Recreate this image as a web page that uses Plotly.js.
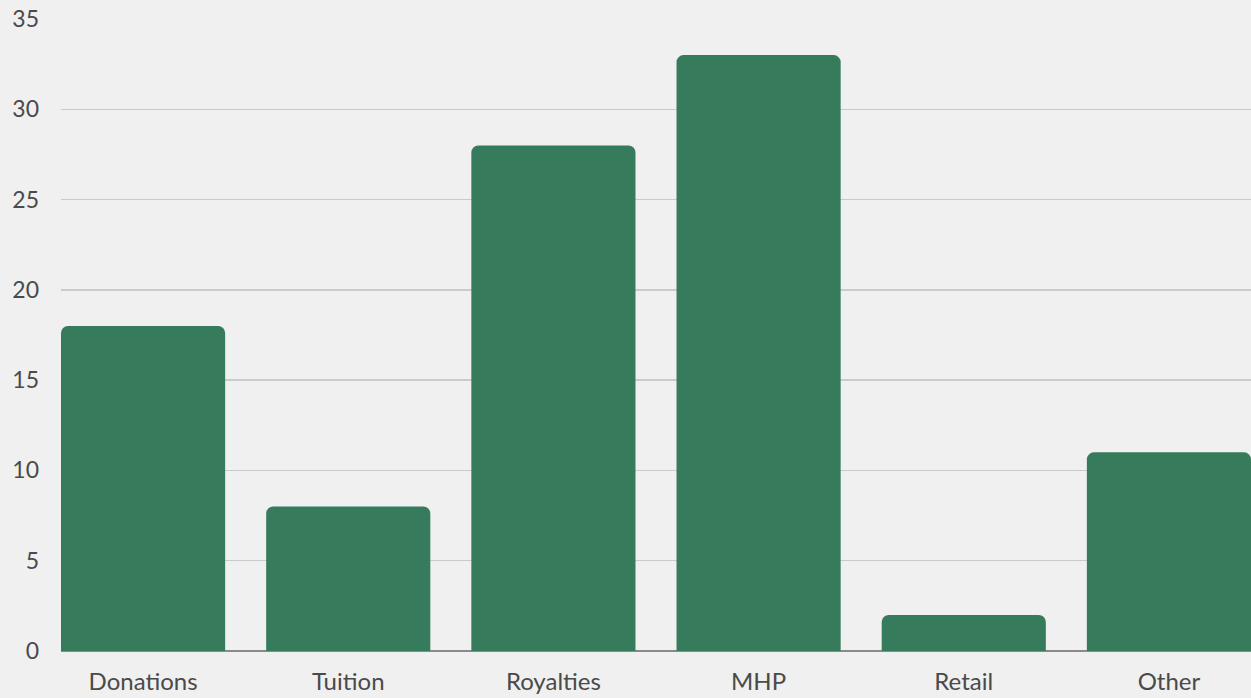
<!DOCTYPE html>
<html>
<head>
<meta charset="utf-8">
<script src="https://cdn.plot.ly/plotly-3.0.1.min.js"></script>
<style>html,body{margin:0;padding:0;background:#f0f0f0;}#chart{width:1251px;height:698px;}</style>
</head>
<body>
<div id="chart"></div>
<script>
const categories = ["Donations", "Tuition", "Royalties", "MHP", "Retail", "Other"];
const values = [18, 8, 28, 33, 2, 11];
const yTicks = [0, 5, 10, 15, 20, 25, 30, 35];

const trace = {
  type: "bar",
  x: categories,
  y: values,
  marker: { color: "#367b5b", cornerradius: 7 },
  hoverinfo: "none"
};

const layout = {
  width: 1251,
  height: 698,
  margin: { l: 61, r: 0, t: 19, b: 47 },
  paper_bgcolor: "#f0f0f0",
  plot_bgcolor: "#f0f0f0",
  bargap: 0.2,
  showlegend: false,
  font: { family: "Lato, 'Noto Sans', sans-serif", color: "#4a4a4a", size: 20 },
  xaxis: {
    range: [-0.4, 5.4],
    showgrid: false,
    showline: false,
    ticks: "",
    tickfont: { size: 24, color: "#4a4a4a" },
    ticklabelstandoff: 14,
    fixedrange: true
  },
  yaxis: {
    range: [0, 35],
    tickvals: yTicks,
    ticktext: yTicks.map(String),
    showgrid: true,
    gridcolor: "#cacaca",
    gridwidth: 1.5,
    zeroline: true,
    zerolinecolor: "#8a8a8a",
    zerolinewidth: 1.5,
    ticks: "",
    tickfont: { size: 23, color: "#4a4a4a" },
    ticklabelstandoff: 21,
    fixedrange: true
  }
};

Plotly.newPlot("chart", [trace], layout, { displayModeBar: false, staticPlot: true });
</script>
</body>
</html>
